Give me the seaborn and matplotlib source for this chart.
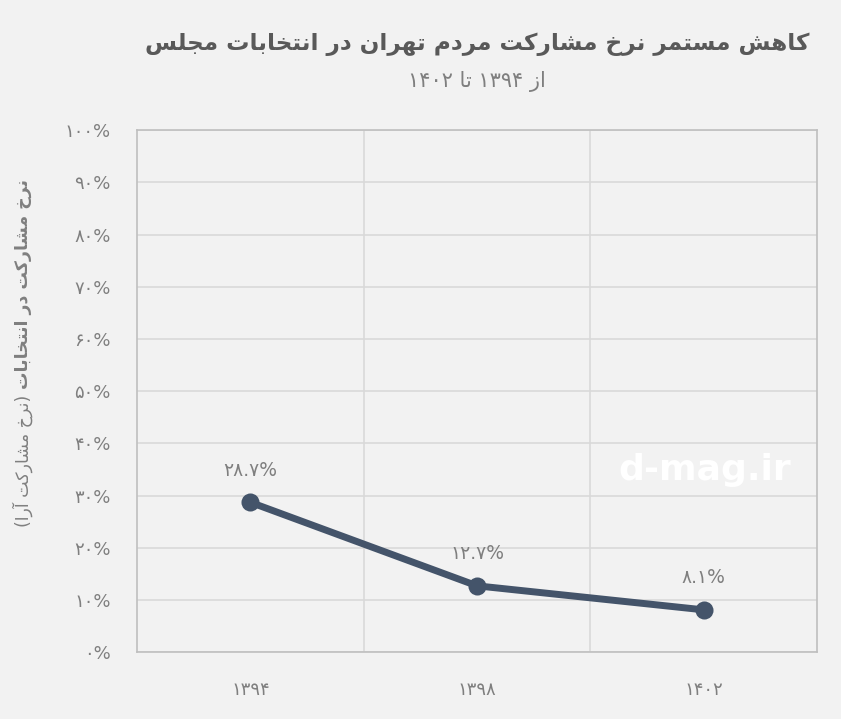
import re
import pandas as pd
import matplotlib
matplotlib.use("Agg")
import matplotlib.pyplot as plt
import seaborn as sns

# data
years = ["۱۳۹۴", "۱۳۹۸", "۱۴۰۲"]
turnout = [28.7, 12.7, 8.1]
point_labels = ["۲۸.۷%", "۱۲.۷%", "۸.۱%"]
y_ticks = [0, 10, 20, 30, 40, 50, 60, 70, 80, 90, 100]
y_tick_labels = ["۰%", "۱۰%", "۲۰%", "۳۰%", "۴۰%", "۵۰%", "۶۰%", "۷۰%", "۸۰%", "۹۰%", "۱۰۰%"]

title = "کاهش مستمر نرخ مشارکت مردم تهران در انتخابات مجلس"
subtitle = "از ۱۳۹۴ تا ۱۴۰۲"
ylabel_main = "نرخ مشارکت در انتخابات"
ylabel_note = "(نرخ مشارکت آرا)"

# matplotlib has no arabic shaping, so do a small one by hand
FORMS = {
    'ا': ('\uFE8D', '\uFE8E', None, None),
    'آ': ('\uFE81', '\uFE82', None, None),
    'ب': ('\uFE8F', '\uFE90', '\uFE91', '\uFE92'),
    'ت': ('\uFE95', '\uFE96', '\uFE97', '\uFE98'),
    'ج': ('\uFE9D', '\uFE9E', '\uFE9F', '\uFEA0'),
    'خ': ('\uFEA5', '\uFEA6', '\uFEA7', '\uFEA8'),
    'د': ('\uFEA9', '\uFEAA', None, None),
    'ر': ('\uFEAD', '\uFEAE', None, None),
    'ز': ('\uFEAF', '\uFEB0', None, None),
    'س': ('\uFEB1', '\uFEB2', '\uFEB3', '\uFEB4'),
    'ش': ('\uFEB5', '\uFEB6', '\uFEB7', '\uFEB8'),
    'ل': ('\uFEDD', '\uFEDE', '\uFEDF', '\uFEE0'),
    'م': ('\uFEE1', '\uFEE2', '\uFEE3', '\uFEE4'),
    'ن': ('\uFEE5', '\uFEE6', '\uFEE7', '\uFEE8'),
    'ه': ('\uFEE9', '\uFEEA', '\uFEEB', '\uFEEC'),
    'ک': ('\uFB8E', '\uFB8F', '\uFB90', '\uFB91'),
}


def fa(text):
    out = []
    for i, ch in enumerate(text):
        if ch not in FORMS:
            out.append(ch)
            continue
        prev = text[i - 1] if i > 0 else ''
        nxt = text[i + 1] if i + 1 < len(text) else ''
        join_prev = prev in FORMS and FORMS[prev][2] is not None
        join_next = FORMS[ch][2] is not None and nxt in FORMS
        iso, fin, ini, med = FORMS[ch]
        if join_prev and join_next:
            out.append(med)
        elif join_prev:
            out.append(fin)
        elif join_next:
            out.append(ini)
        else:
            out.append(iso)
    s = ''.join(out)[::-1]
    s = s.translate(str.maketrans('()', ')('))
    # numbers stay left to right
    s = re.sub(r'[0-9۰-۹.%]+', lambda m: m.group()[::-1], s)
    return s


sns.set_theme(style="whitegrid")
plt.rcParams['font.family'] = ['DejaVu Sans']

bg = "#f2f2f2"
txt = "#7f7f7f"
line_col = "#44546a"

df = pd.DataFrame({"year": years, "turnout": turnout})

fig = plt.figure(figsize=(8.41, 7.19), dpi=100, facecolor=bg)
ax = fig.add_axes([0.163, 0.093, 0.8085, 0.726])
ax.set_facecolor(bg)

sns.lineplot(data=df, x="year", y="turnout", ax=ax, color=line_col,
             linewidth=5, marker="o", markersize=13, markeredgewidth=0,
             sort=False)

for i, (v, lab) in enumerate(zip(turnout, point_labels)):
    ax.annotate(lab, (i, v), xytext=(0, 23), textcoords="offset points",
                ha="center", va="center", color=txt, fontsize=13.5)

ax.set_xlim(-0.5, 2.5)
ax.set_ylim(0, 100)
ax.set_yticks(y_ticks)
ax.set_yticklabels(y_tick_labels)
ax.set_xticks([0, 1, 2])
ax.set_xticklabels(years)
ax.set_xticks([0.5, 1.5], minor=True)
ax.grid(False)
ax.grid(True, which="major", axis="y", color="#d9d9d9", linewidth=1.2)
ax.grid(True, which="minor", axis="x", color="#d9d9d9", linewidth=1.2)
ax.tick_params(axis="both", which="both", length=0, colors=txt, labelsize=13)
ax.tick_params(axis="y", pad=19)
ax.tick_params(axis="x", pad=21)
for sp in ax.spines.values():
    sp.set_color("#bfbfbf")
    sp.set_linewidth(1.2)

ax.set_xlabel("")
ax.set_ylabel("")

# y label: bold main part on top, regular note below it
note = fig.text(0.027, 1 - 527 / 719, fa(ylabel_note), rotation=90,
                ha="center", va="bottom", fontsize=12.5, color=txt)
fig.canvas.draw()
bb = note.get_window_extent(fig.canvas.get_renderer())
top = bb.y1 / fig.bbox.height
fig.text(0.027, top + 0.008, fa(ylabel_main), rotation=90,
         ha="center", va="bottom", fontsize=12.5, fontweight="bold", color=txt)

fig.text(0.567, 0.938, fa(title), ha="center", va="center",
         fontsize=16.7, fontweight="bold", color="#595959")
fig.text(0.567, 0.887, fa(subtitle), ha="center", va="center",
         fontsize=15, color=txt)

# site watermark
fig.text(0.838, 0.346, "d-mag.ir", ha="center", va="center",
         fontsize=26, fontweight="bold", color="white")

fig.savefig("out.png", dpi=100, facecolor=bg)
